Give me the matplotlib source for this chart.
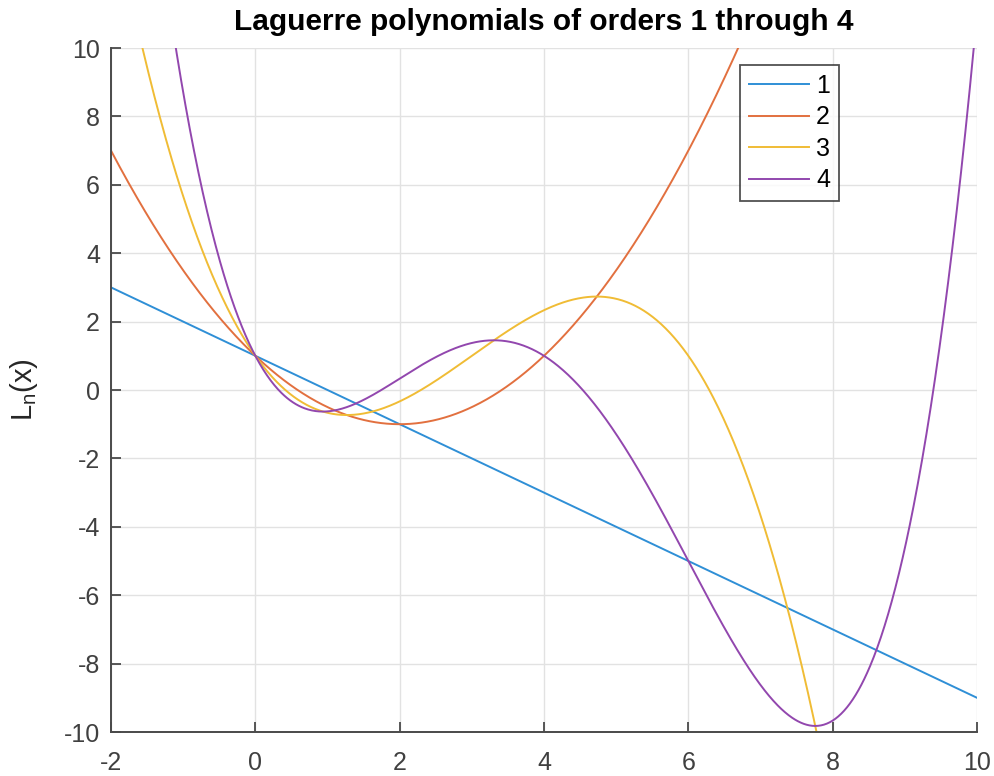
import numpy as np
import matplotlib
matplotlib.use("Agg")
import matplotlib.pyplot as plt

# Polynomial coefficients (highest power first) of Laguerre polynomials L1..L4
orders = ["1", "2", "3", "4"]
coef_L1 = [-1.0, 1.0]
coef_L2 = [1/2, -2.0, 1.0]
coef_L3 = [-1/6, 3/2, -3.0, 1.0]
coef_L4 = [1/24, -2/3, 3.0, -4.0, 1.0]
coefs = [coef_L1, coef_L2, coef_L3, coef_L4]

x_range = [-2, 10]
y_range = [-10, 10]
x_ticks = [-2, 0, 2, 4, 6, 8, 10]
y_ticks = [-10, -8, -6, -4, -2, 0, 2, 4, 6, 8, 10]

colors = ["#2F8FD6", "#E2703F", "#F0BC35", "#9247AE"]

plt.rcParams['font.family'] = ['Liberation Sans', 'DejaVu Sans']

fig = plt.figure(figsize=(9.95, 7.76), dpi=100)
ax = fig.add_axes([111/995, 1-732/776, (977-111)/995, (732-48)/776])

x = np.linspace(x_range[0], x_range[1], 1200)
for c, lab, col in zip(coefs, orders, colors):
    ax.plot(x, np.polyval(c, x), color=col, lw=1.4, label=lab)

ax.set_xlim(x_range)
ax.set_ylim(y_range)
ax.set_xticks(x_ticks)
ax.set_yticks(y_ticks)
ax.set_xticklabels([str(t) for t in x_ticks])
ax.set_yticklabels([str(t) for t in y_ticks])
ax.grid(True, color="#e2e2e2", lw=1.0)
ax.set_axisbelow(True)
for s in ["top", "right"]:
    ax.spines[s].set_visible(False)
for s in ["left", "bottom"]:
    ax.spines[s].set_color("#4a4a4a")
    ax.spines[s].set_linewidth(1.4)
ax.tick_params(direction="in", length=7, width=1.3, color="#4a4a4a",
               labelsize=18, labelcolor="#404040")
ax.tick_params(axis="y", pad=8)
ax.tick_params(axis="x", pad=14)

ax.set_title("Laguerre polynomials of orders 1 through 4", fontsize=21.5,
             fontweight="bold", pad=13)
ax.set_ylabel(r"L$_\mathregular{n}$(x)", fontsize=21, color="#262626", labelpad=17)

leg = ax.legend(loc="upper right", bbox_to_anchor=(839/995, 1-65/776),
                bbox_transform=fig.transFigure, fontsize=18, frameon=True,
                fancybox=False, edgecolor="#262626", handlelength=2.4,
                handletextpad=0.3, labelspacing=0.3, borderpad=0.35,
                borderaxespad=0)
leg.get_frame().set_linewidth(1.3)

fig.savefig("out.png", dpi=100)
